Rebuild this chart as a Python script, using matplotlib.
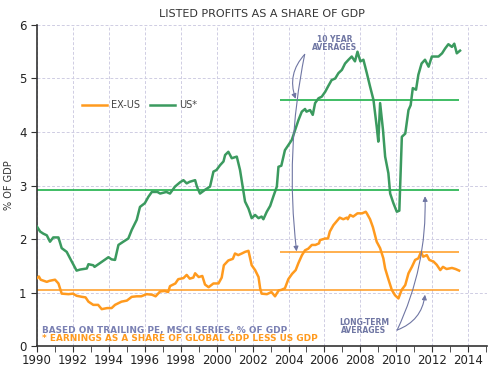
import matplotlib.pyplot as plt
from matplotlib.ticker import MultipleLocator

# datos (aprox)
us_years = [1990.0, 1990.17, 1990.35, 1990.54, 1990.72, 1990.9, 1991.19, 1991.37, 1991.65, 1991.93,
            1992.2, 1992.4, 1992.77, 1992.86, 1993.13, 1993.2, 1993.5, 1993.8, 1993.97, 1994.15,
            1994.34, 1994.53, 1994.8, 1995.08, 1995.27, 1995.55, 1995.73, 1996.0, 1996.2, 1996.39,
            1996.7, 1996.85, 1997.2, 1997.4, 1997.68, 1997.96, 1998.15, 1998.33, 1998.5, 1998.8,
            1998.9, 1999.07, 1999.35, 1999.63, 1999.82, 1999.99, 2000.19, 2000.38, 2000.47, 2000.65,
            2000.84, 2001.12, 2001.3, 2001.58, 2001.77, 2001.95, 2002.14, 2002.33, 2002.5, 2002.6,
            2002.79, 2002.98, 2003.16, 2003.35, 2003.44, 2003.6, 2003.8, 2004.0, 2004.18, 2004.37,
            2004.55, 2004.74, 2004.92, 2005.0, 2005.2, 2005.35, 2005.48, 2005.67, 2005.85, 2006.04,
            2006.2, 2006.4, 2006.6, 2006.78, 2006.97, 2007.15, 2007.34, 2007.52, 2007.7, 2007.84,
            2008.0, 2008.17, 2008.36, 2008.54, 2008.73, 2008.91, 2009.0, 2009.1, 2009.26, 2009.38,
            2009.56, 2009.66, 2009.84, 2010.03, 2010.17, 2010.31, 2010.5, 2010.68, 2010.8, 2010.92,
            2011.1, 2011.23, 2011.41, 2011.6, 2011.8, 2011.98, 2012.35, 2012.55, 2012.72, 2012.9,
            2013.1, 2013.23, 2013.37, 2013.55]
us_vals = [2.23, 2.14, 2.10, 2.07, 1.95, 2.03, 2.03, 1.83, 1.76, 1.58,
           1.41, 1.43, 1.45, 1.53, 1.51, 1.48, 1.55, 1.62, 1.66, 1.62,
           1.61, 1.89, 1.95, 2.01, 2.17, 2.36, 2.60, 2.67, 2.79, 2.88,
           2.88, 2.85, 2.88, 2.85, 2.98, 3.06, 3.10, 3.04, 3.07, 3.10,
           2.98, 2.85, 2.92, 2.98, 3.26, 3.29, 3.38, 3.45, 3.57, 3.63,
           3.51, 3.54, 3.29, 2.70, 2.57, 2.39, 2.45, 2.39, 2.42, 2.37,
           2.51, 2.62, 2.80, 2.98, 3.35, 3.37, 3.66, 3.76, 3.85, 4.04,
           4.22, 4.38, 4.43, 4.38, 4.41, 4.32, 4.54, 4.63, 4.66, 4.75,
           4.85, 4.97, 5.00, 5.10, 5.16, 5.28, 5.35, 5.41, 5.32, 5.50,
           5.32, 5.35, 5.10, 4.85, 4.60, 4.10, 3.82, 4.54, 4.04, 3.54,
           3.23, 2.85, 2.67, 2.51, 2.53, 3.91, 3.97, 4.41, 4.50, 4.82,
           4.79, 5.07, 5.28, 5.35, 5.22, 5.41, 5.41, 5.47, 5.56, 5.64,
           5.59, 5.65, 5.47, 5.52]

exus_years = [1990.0, 1990.1, 1990.2, 1990.54, 1990.7, 1991.0, 1991.19, 1991.37, 1991.75, 1992.0,
              1992.2, 1992.5, 1992.7, 1992.86, 1993.13, 1993.4, 1993.6, 1993.9, 1994.15, 1994.34,
              1994.7, 1995.0, 1995.27, 1995.55, 1995.8, 1996.1, 1996.4, 1996.6, 1996.85, 1997.1,
              1997.3, 1997.4, 1997.7, 1997.86, 1998.15, 1998.33, 1998.5, 1998.7, 1998.8, 1999.0,
              1999.2, 1999.35, 1999.55, 1999.82, 2000.1, 2000.28, 2000.4, 2000.65, 2000.9, 2001.02,
              2001.2, 2001.4, 2001.58, 2001.77, 2001.95, 2002.14, 2002.33, 2002.42, 2002.5, 2002.8,
              2003.05, 2003.25, 2003.45, 2003.6, 2003.8, 2003.99, 2004.2, 2004.4, 2004.55, 2004.75,
              2004.92, 2005.1, 2005.3, 2005.5, 2005.7, 2005.75, 2006.05, 2006.2, 2006.3, 2006.5,
              2006.7, 2006.85, 2007.05, 2007.25, 2007.3, 2007.43, 2007.6, 2007.84, 2008.1, 2008.3,
              2008.36, 2008.54, 2008.7, 2008.91, 2009.1, 2009.28, 2009.38, 2009.56, 2009.75, 2009.93,
              2010.12, 2010.3, 2010.5, 2010.68, 2010.87, 2011.05, 2011.23, 2011.38, 2011.5, 2011.7,
              2011.84, 2012.07, 2012.25, 2012.45, 2012.6, 2012.8, 2013.1, 2013.3, 2013.5]
exus_vals = [1.27, 1.30, 1.24, 1.20, 1.22, 1.24, 1.17, 0.98, 0.97, 0.98,
             0.94, 0.92, 0.91, 0.83, 0.77, 0.77, 0.69, 0.71, 0.71, 0.77,
             0.83, 0.85, 0.92, 0.93, 0.93, 0.97, 0.96, 0.93, 1.02, 1.03,
             1.01, 1.12, 1.17, 1.25, 1.27, 1.33, 1.26, 1.28, 1.36, 1.29,
             1.31, 1.15, 1.10, 1.17, 1.17, 1.28, 1.51, 1.60, 1.63, 1.73,
             1.70, 1.73, 1.76, 1.78, 1.51, 1.42, 1.29, 1.08, 0.98, 0.97,
             1.01, 0.93, 1.04, 1.05, 1.08, 1.25, 1.35, 1.42, 1.55, 1.70,
             1.79, 1.82, 1.89, 1.89, 1.92, 1.98, 2.01, 2.01, 2.14, 2.26,
             2.34, 2.40, 2.37, 2.40, 2.37, 2.45, 2.42, 2.48, 2.48, 2.51,
             2.48, 2.37, 2.22, 1.95, 1.83, 1.64, 1.45, 1.25, 1.05, 0.95,
             0.89, 1.05, 1.14, 1.36, 1.48, 1.61, 1.64, 1.76, 1.67, 1.70,
             1.61, 1.58, 1.52, 1.42, 1.48, 1.44, 1.46, 1.44, 1.41]

# promedios
us_lp = 2.91
us_10a = 4.60
exus_lp = 1.05
exus_10a = 1.75
inicio_10a = 2003.5
fin = 2013.5

verde = "#3b9a5f"
verde_prom = "#1fb24a"
naranja = "#ff9a1e"
gris_azul = "#6f76a3"

fig = plt.figure(figsize=(5.01, 3.67), dpi=100)
ax = fig.add_axes([0.074, 0.057, 0.898, 0.875])

ax.hlines(us_lp, 1990, fin, color=verde_prom, lw=1.2, zorder=2)
ax.hlines(us_10a, inicio_10a, fin, color=verde_prom, lw=1.2, zorder=2)
ax.hlines(exus_lp, 1990, fin, color=naranja, lw=1.1, zorder=2)
ax.hlines(exus_10a, inicio_10a, fin, color=naranja, lw=1.1, zorder=2)

ax.plot(exus_years, exus_vals, color=naranja, lw=1.8, label="EX-US", zorder=3)
ax.plot(us_years, us_vals, color=verde, lw=1.8, label="US*", zorder=3)

ax.set_xlim(1990, 2015.05)
ax.set_ylim(0, 6)
ax.xaxis.set_major_locator(MultipleLocator(2))
ax.xaxis.set_minor_locator(MultipleLocator(1))
ax.yaxis.set_major_locator(MultipleLocator(1))
ax.grid(True, which="major", color="#cfcde3", ls=(0, (3, 2)), lw=0.7)
ax.set_axisbelow(True)
for s in ["top", "right"]:
    ax.spines[s].set_visible(False)
ax.spines["left"].set_color("#333333")
ax.spines["bottom"].set_color("#333333")
ax.spines["left"].set_linewidth(1.2)
ax.spines["bottom"].set_linewidth(1.2)
ax.tick_params(axis="both", which="major", labelsize=8.5, length=4, color="#333333", labelcolor="#222222")
ax.tick_params(axis="x", which="minor", length=4, color="#333333")
ax.tick_params(axis="x", pad=2)
ax.set_ylabel("% OF GDP", fontsize=7, color="#333333", labelpad=4)

ax.set_title("LISTED PROFITS AS A SHARE OF GDP", fontsize=8, color="#333333", pad=6)

ax.legend(loc="center left", bbox_to_anchor=(0.08, 0.75), ncol=2, frameon=False,
          fontsize=7, handlelength=2.6, columnspacing=1.0, handletextpad=0.4,
          labelcolor="#444444")

# anotaciones
ax.text(2006.55, 5.65, "10 YEAR\nAVERAGES", ha="center", va="center", fontsize=5.5,
        fontweight="bold", color=gris_azul, linespacing=0.9)
for tip, rad in [((2004.4, us_10a + 0.02), 0.3), ((2004.45, exus_10a + 0.02), 0.08)]:
    ax.annotate("", xy=tip, xytext=(2004.9, 5.45),
                arrowprops=dict(arrowstyle="-|>", color=gris_azul, lw=0.8,
                                mutation_scale=7, shrinkA=0, shrinkB=0,
                                connectionstyle=f"arc3,rad={rad}"))

ax.text(2008.2, 0.36, "LONG-TERM\nAVERAGES", ha="center", va="center", fontsize=5.5,
        fontweight="bold", color=gris_azul, linespacing=0.9)
for tip, rad in [((2011.6, 2.80), 0.12), ((2011.6, 0.96), 0.3)]:
    ax.annotate("", xy=tip, xytext=(2010.05, 0.30),
                arrowprops=dict(arrowstyle="-|>", color=gris_azul, lw=0.8,
                                mutation_scale=7, shrinkA=0, shrinkB=0,
                                connectionstyle=f"arc3,rad={rad}"))

ax.text(1990.25, 0.30, "BASED ON TRAILING PE, MSCI SERIES, % OF GDP", fontsize=6.4,
        fontweight="bold", color="#7a80b3", va="center")
ax.text(1990.25, 0.14, "* EARNINGS AS A SHARE OF GLOBAL GDP LESS US GDP", fontsize=6.4,
        fontweight="bold", color=naranja, va="center")

fig.savefig("out.png", dpi=100)
